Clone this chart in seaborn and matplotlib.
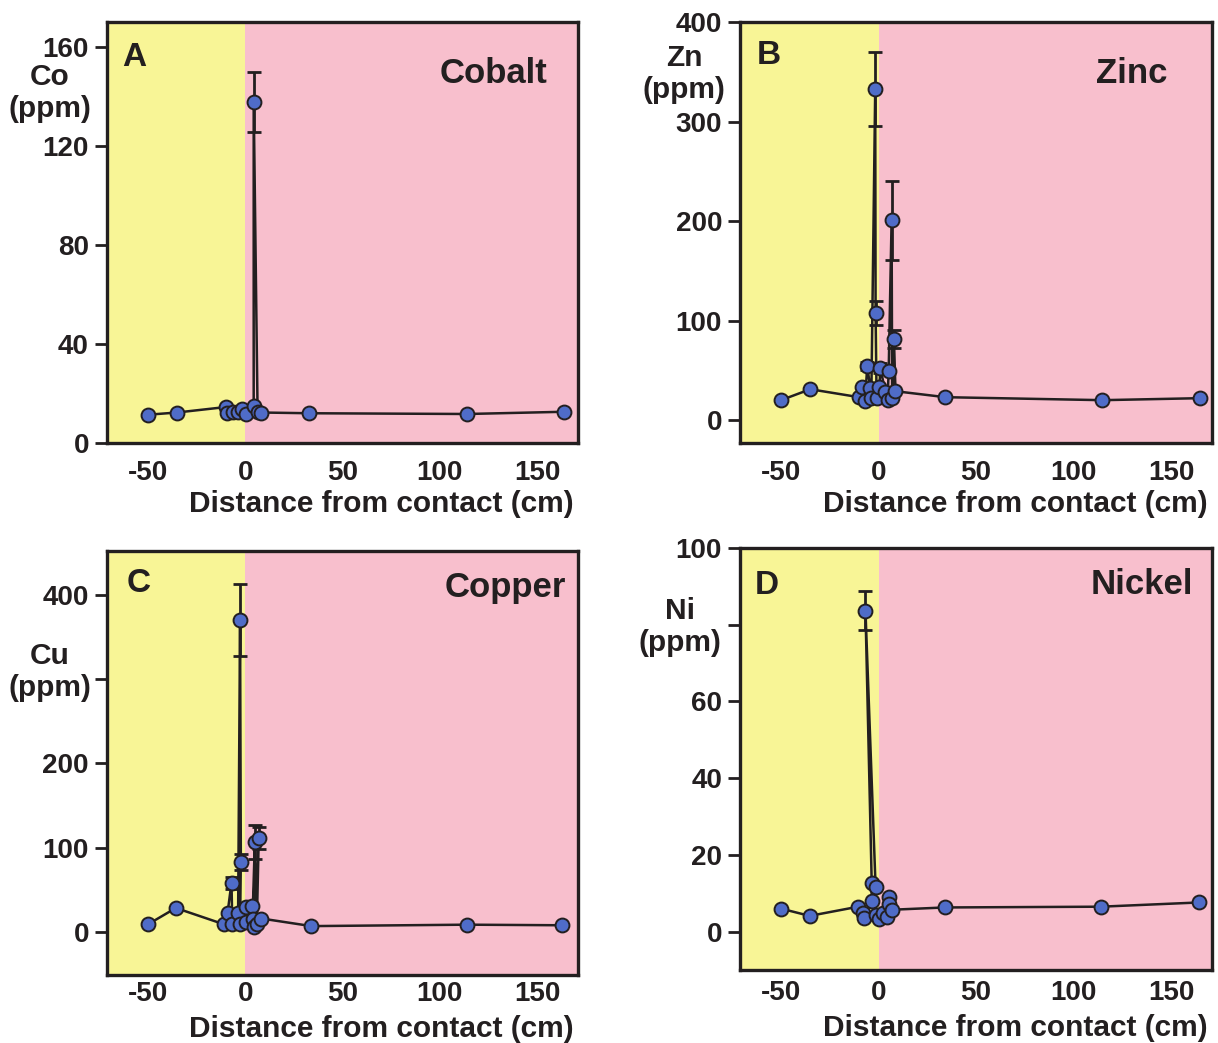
"""
Trace metal profiles across the contact (Co, Zn, Cu, Ni), four panels.
"""
import numpy as np
import matplotlib
matplotlib.use("Agg")
import matplotlib.pyplot as plt
import seaborn as sns

# ---------------- data ----------------
# Cobalt
co_x = [-50, -35, -10, -9.3, -6.2, -3.6, -1.4, 0.4, 4.4, 4.4, 6.4, 8, 33, 114, 164]
co_y = [11.4, 12.3, 14.5, 12, 12.7, 12.5, 13.7, 11.7, 15, 137.7, 12.7, 12.3, 12, 11.7, 12.6]
co_err = [0, 0, 0, 0, 0, 0, 0, 0, 0, 12, 0, 0, 0, 0, 0]

# Zinc
zn_x = [-50, -35, -10, -8.3, -6.9, -5.8, -4.2, -3.7, -1.7, -1.5, -1, 0.4, 1, 3.5, 4.6,
        5.2, 6.7, 7, 7.9, 8.7, 34.3, 114.8, 164.7]
zn_y = [20, 31, 23, 33.7, 19.5, 54, 32, 22, 332.6, 108, 22, 33.7, 52, 28, 20,
        49, 200.7, 22, 81.5, 29, 23, 20, 22]
zn_err = [0, 0, 0, 0, 0, 4, 0, 0, 37, 12, 0, 0, 5, 0, 0,
          0, 40, 0, 9, 0, 0, 0, 0]

# Copper
cu_x = [-50, -35.6, -10.7, -9, -7, -6.6, -3.6, -2.6, -2.2, -2.6, 0.4, 0.4, 3.4, 3.8,
        5, 4.4, 7, 6, 8.4, 34, 114, 163]
cu_y = [9, 28.5, 9, 23, 58.6, 9, 22, 370, 83, 9, 30, 12, 30.5, 16,
        107, 6, 112, 9, 16, 7, 8.7, 8]
cu_err = [0, 0, 0, 0, 7, 0, 0, 43, 10, 0, 0, 0, 0, 0,
          20, 0, 13, 0, 0, 0, 0, 0]

# Nickel
ni_x = [-50, -35.3, -10.4, -7.9, -7.3, -3.5, -3.5, -6.7, -1.5, -1.5, 0, 2.5, 4.2,
        5.2, 5.4, 6.7, 33.9, 114, 164.2]
ni_y = [6, 4.1, 6.5, 4.8, 3.5, 8, 12.8, 83.7, 11.6, 4.3, 3.2, 4.8, 3.9,
        9.1, 7.1, 5.7, 6.3, 6.5, 7.6]
ni_err = [0, 0, 0, 0, 0, 0, 0, 5, 0, 0, 0, 0, 0,
          0, 0, 0, 0, 0, 0]

x_ticks = [-50, 0, 50, 100, 150]
co_ticks = [0, 40, 80, 120, 160]
zn_ticks = [0, 100, 200, 300, 400]
cu_ticks = [0, 100, 200, 300, 400]
cu_ticklabels = ["0", "100", "200", "", "400"]
ni_ticks = [0, 20, 40, 60, 80, 100]
ni_ticklabels = ["0", "20", "40", "60", "", "100"]

YELLOW = "#F8F596"
PINK = "#F8BFCD"
BLUE = "#4F6CC8"
INK = "#231F20"

sns.set_theme(style="ticks")
plt.rcParams["font.family"] = ["Liberation Sans", "DejaVu Sans"]
plt.rcParams["font.weight"] = "bold"
plt.rcParams["axes.unicode_minus"] = False
plt.rcParams["text.color"] = INK
plt.rcParams["axes.labelcolor"] = INK
plt.rcParams["xtick.color"] = INK
plt.rcParams["ytick.color"] = INK

fig = plt.figure(figsize=(12.18, 10.43), dpi=100)

panels = [
    # rect, x, y, err, ylim, ticks, ticklabels, letter, name, ylabel,
    # ylabel xy, letter xy, name xy, xlabel y, x tick pad
    ([0.0878, 0.5753, 0.3867, 0.4036], co_x, co_y, co_err, (0, 170), co_ticks, None,
     "A", "Cobalt", "Co\n(ppm)", (-0.121, 0.831), (0.032, 0.952), (0.936, 0.917), -0.145, 12),
    ([0.6076, 0.5753, 0.3875, 0.4036], zn_x, zn_y, zn_err, (-23, 400), zn_ticks, None,
     "B", "Zinc", "Zn\n(ppm)", (-0.119, 0.876), (0.036, 0.957), (0.905, 0.917), -0.145, 12),
    ([0.0878, 0.0652, 0.3867, 0.4065], cu_x, cu_y, cu_err, (-51, 452), cu_ticks, cu_ticklabels,
     "C", "Copper", "Cu\n(ppm)", (-0.121, 0.715), (0.042, 0.960), (0.975, 0.952), -0.128, 4),
    ([0.6076, 0.0700, 0.3875, 0.4046], ni_x, ni_y, ni_err, (-10, 100), ni_ticks, ni_ticklabels,
     "D", "Nickel", "Ni\n(ppm)", (-0.127, 0.813), (0.032, 0.948), (0.960, 0.952), -0.138, 7),
]

for (rect, xs, ys, errs, ylim, yt, ytl, letter, name, ylab,
     lab_xy, let_xy, name_xy, xlab_y, xpad) in panels:
    ax = fig.add_axes(rect)
    xlim = (-71, 171)
    ax.axvspan(xlim[0], 0, color=YELLOW, zorder=0, lw=0)
    ax.axvspan(0, xlim[1], color=PINK, zorder=0, lw=0)

    # error bars (only where a bar exists)
    xs_a, ys_a, er_a = np.array(xs), np.array(ys), np.array(errs)
    m = er_a > 0
    ax.errorbar(xs_a[m], ys_a[m], yerr=er_a[m], fmt="none", ecolor=INK,
                elinewidth=2, capsize=5, capthick=2, zorder=2)

    sns.lineplot(x=xs, y=ys, sort=False, estimator=None, ax=ax, color=INK,
                 linewidth=1.8, marker="o", markersize=10, markerfacecolor=BLUE,
                 markeredgecolor=INK, markeredgewidth=1.4, zorder=3)

    ax.set_xlim(*xlim)
    ax.set_ylim(*ylim)
    ax.set_xticks(x_ticks)
    ax.set_yticks(yt)
    if ytl is not None:
        ax.set_yticklabels(ytl)
    ax.tick_params(axis="x", length=0, pad=xpad, labelsize=20)
    ax.tick_params(axis="y", length=9, width=2, pad=4, labelsize=20, direction="out")
    for s in ax.spines.values():
        s.set_linewidth(2.4)
        s.set_color(INK)
        s.set_zorder(5)

    ax.set_xlabel("Distance from contact (cm)", fontsize=21.5, fontweight="bold",
                  ha="right", va="center")
    ax.xaxis.set_label_coords(0.99, xlab_y)
    ax.set_ylabel(ylab, rotation=0, fontsize=21.5, fontweight="bold",
                  ha="center", va="center", linespacing=1.2)
    ax.yaxis.set_label_coords(*lab_xy)

    ax.text(let_xy[0], let_xy[1], letter, transform=ax.transAxes, fontsize=24,
            fontweight="bold", ha="left", va="top", zorder=6)
    ax.text(name_xy[0], name_xy[1], name, transform=ax.transAxes, fontsize=25,
            fontweight="bold", ha="right", va="top", zorder=6)

fig.savefig("out.png", dpi=100)
